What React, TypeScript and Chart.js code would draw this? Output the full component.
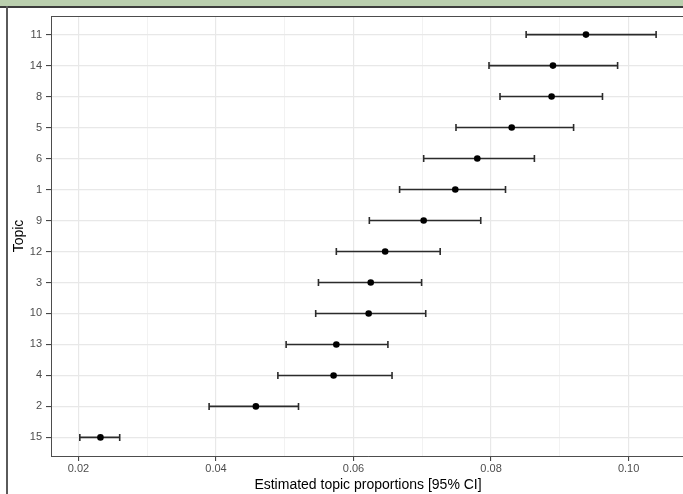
import React, { useEffect, useRef } from "react";
import { Chart, registerables } from "chart.js";

Chart.register(...registerables);

// Topics, top to bottom
const topics = ["11", "14", "8", "5", "6", "1", "9", "12", "3", "10", "13", "4", "2", "15"];
const estimates = [0.0938, 0.089, 0.0888, 0.083, 0.078, 0.0748, 0.0702, 0.0646, 0.0625, 0.0622, 0.0575, 0.0571, 0.0458, 0.0232];
const lower = [0.0851, 0.0797, 0.0813, 0.0749, 0.0702, 0.0667, 0.0623, 0.0575, 0.0549, 0.0545, 0.0502, 0.049, 0.039, 0.0202];
const upper = [0.104, 0.0984, 0.0962, 0.092, 0.0863, 0.0821, 0.0785, 0.0726, 0.0699, 0.0705, 0.065, 0.0656, 0.052, 0.026];
const xMajorTicks = [0.02, 0.04, 0.06, 0.08, 0.1];

const FONT = "'Liberation Sans', Arial, sans-serif";

const isMajor = (v: number) => xMajorTicks.some((t) => Math.abs(t - v) < 1e-6);

const errorBarPlugin = {
  id: "errorBars",
  beforeDatasetsDraw(chart: any) {
    const { ctx, scales, chartArea } = chart;
    const xs = scales.x;
    const ys = scales.y;
    ctx.save();
    // top panel border
    ctx.strokeStyle = "#4d4d4d";
    ctx.lineWidth = 1;
    ctx.beginPath();
    ctx.moveTo(chartArea.left, Math.round(chartArea.top) + 0.5);
    ctx.lineTo(chartArea.right, Math.round(chartArea.top) + 0.5);
    ctx.stroke();
    ctx.strokeStyle = "#2b2b2b";
    ctx.lineWidth = 1.6;
    for (let i = 0; i < topics.length; i++) {
      const y = ys.getPixelForValue(i);
      const x1 = xs.getPixelForValue(lower[i]);
      const x2 = xs.getPixelForValue(upper[i]);
      ctx.beginPath();
      ctx.moveTo(x1, y);
      ctx.lineTo(x2, y);
      ctx.moveTo(x1, y - 3.5);
      ctx.lineTo(x1, y + 3.5);
      ctx.moveTo(x2, y - 3.5);
      ctx.lineTo(x2, y + 3.5);
      ctx.stroke();
    }
    ctx.restore();
  },
};

export default function App() {
  const ref = useRef<HTMLCanvasElement | null>(null);

  useEffect(() => {
    if (!ref.current) return;
    const chart = new Chart(ref.current, {
      type: "scatter",
      data: {
        datasets: [
          {
            data: estimates.map((v, i) => ({ x: v, y: i })),
            pointRadius: 3.3,
            pointHoverRadius: 3.3,
            backgroundColor: "#000000",
            borderWidth: 0,
          },
        ],
      },
      options: {
        responsive: false,
        animation: false,
        devicePixelRatio: 1,
        layout: { padding: { left: 8, top: 16, right: 35, bottom: 0 } },
        plugins: { legend: { display: false }, tooltip: { enabled: false } },
        scales: {
          x: {
            type: "linear",
            min: 0.01601,
            max: 0.1082,
            afterFit: (s: any) => {
              s.height = 38;
            },
            ticks: {
              stepSize: 0.01,
              includeBounds: false,
              autoSkip: false,
              maxRotation: 0,
              padding: 1,
              color: "#4d4d4d",
              font: { family: FONT, size: 11 },
              callback: (v: any) => (isMajor(Number(v)) ? Number(v).toFixed(2) : ""),
            },
            grid: {
              color: (c: any) => (isMajor(c.tick?.value) ? "#e8e8e8" : "#f1f1f1"),
              lineWidth: (c: any) => (isMajor(c.tick?.value) ? 1.2 : 0.9),
              tickColor: (c: any) => (isMajor(c.tick?.value) ? "#333333" : "rgba(0,0,0,0)"),
              tickLength: 5,
              tickWidth: 1,
            },
            border: { display: true, color: "#4d4d4d", width: 1 },
            title: {
              display: true,
              text: "Estimated topic proportions [95% CI]",
              color: "#000000",
              font: { family: FONT, size: 14 },
              padding: { top: 0, bottom: 0 },
            },
          },
          y: {
            type: "linear",
            min: -0.6,
            max: 13.6,
            reverse: true,
            afterFit: (s: any) => {
              s.width = 43;
            },
            ticks: {
              stepSize: 1,
              includeBounds: false,
              autoSkip: false,
              padding: 4,
              color: "#4d4d4d",
              font: { family: FONT, size: 11 },
              callback: (v: any) => {
                const n = Math.round(Number(v));
                return Math.abs(Number(v) - n) < 1e-6 && n >= 0 && n < topics.length ? topics[n] : "";
              },
            },
            grid: {
              color: "#e8e8e8",
              lineWidth: 1.2,
              tickColor: "#333333",
              tickLength: 5,
              tickWidth: 1,
            },
            border: { display: true, color: "#4d4d4d", width: 1 },
            title: {
              display: true,
              text: "Topic",
              color: "#000000",
              font: { family: FONT, size: 14 },
              padding: { top: 3, bottom: 0 },
            },
          },
        },
      },
      plugins: [errorBarPlugin],
    });
    return () => chart.destroy();
  }, []);

  return (
    <div
      style={{
        position: "fixed",
        left: 0,
        top: 0,
        width: 683,
        height: 494,
        overflow: "hidden",
        background: "#ffffff",
      }}
    >
      <canvas
        ref={ref}
        width={720}
        height={494}
        style={{ position: "absolute", left: 0, top: 0, width: 720, height: 494 }}
      />
      <div style={{ position: "absolute", left: 0, top: 0, width: 683, height: 6, background: "#bacfae" }} />
      <div style={{ position: "absolute", left: 0, top: 6, width: 683, height: 2, background: "#3c3c3c" }} />
      <div style={{ position: "absolute", left: 6, top: 6, width: 2, height: 488, background: "#5a5a5a" }} />
    </div>
  );
}
